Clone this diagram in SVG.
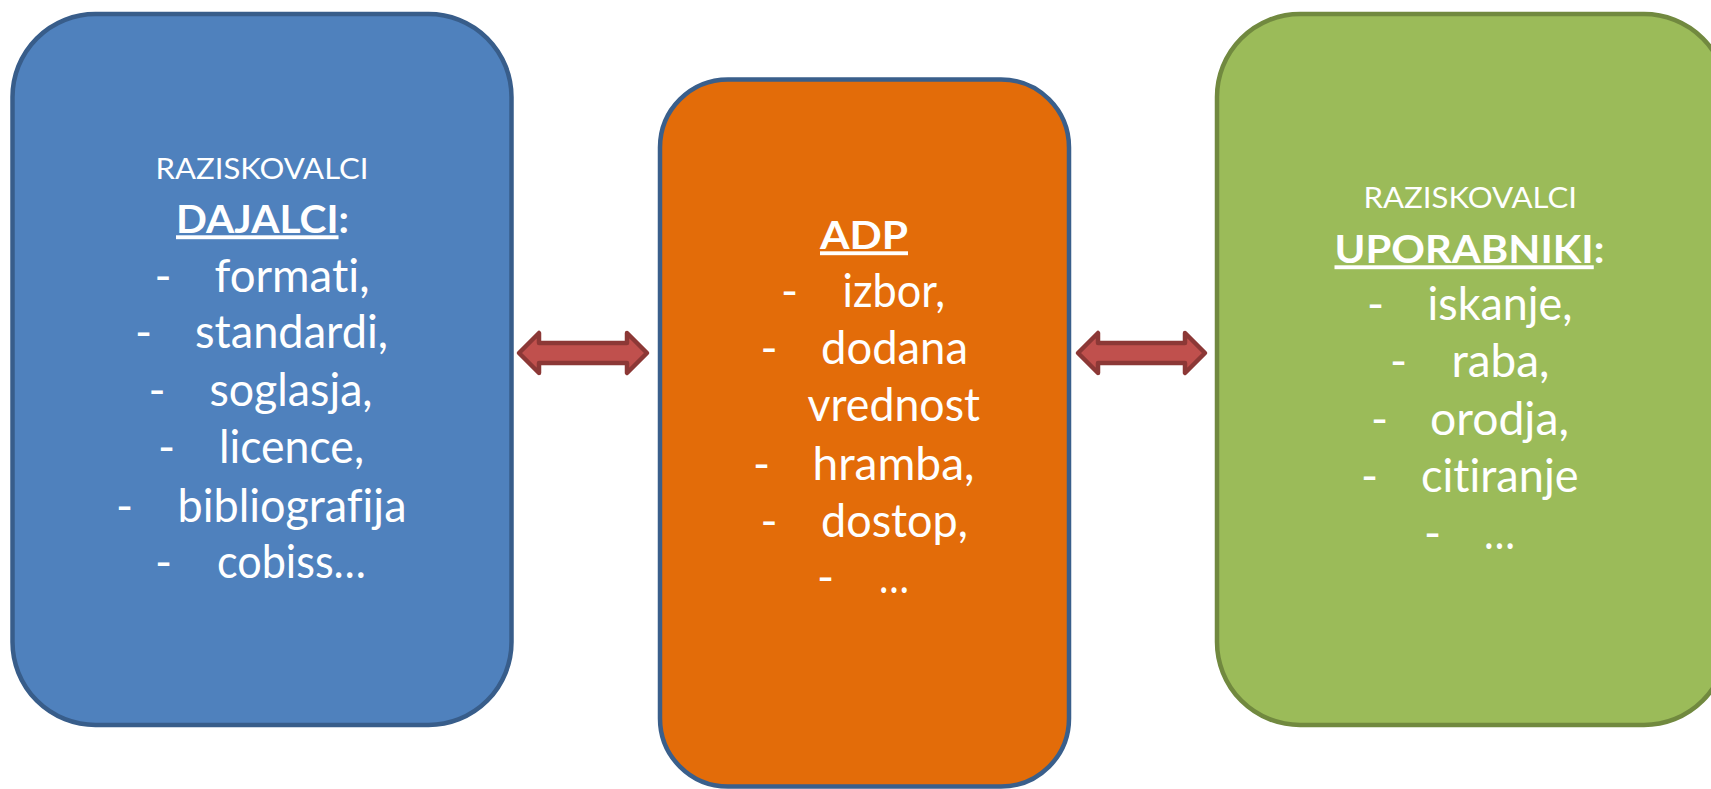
<svg xmlns="http://www.w3.org/2000/svg" width="1711" height="789" viewBox="0 0 1711 789">
<style>
.t{font-family:Lato,"Liberation Sans",sans-serif;fill:#ffffff;font-variant-ligatures:none;font-feature-settings:"liga" 0,"clig" 0}
.h{font-size:28px}
.b{font-size:39px;font-weight:bold}
.l{font-size:46px}
.u{text-decoration:underline}
.arrow{fill:#C0504D;stroke:#8C3836;stroke-width:4.5;stroke-linejoin:round}
</style>
<rect width="1711" height="789" fill="#ffffff"/>
<g id="dajalci">
<rect x="12.5" y="14" width="499" height="711" rx="83" ry="83" fill="#4F81BD" stroke="#385D8A" stroke-width="4.5"/>
<text class="t h" x="155.5" y="179.3" textLength="213" lengthAdjust="spacingAndGlyphs">RAZISKOVALCI</text>
<text class="t b" x="176" y="233.3" textLength="173" lengthAdjust="spacingAndGlyphs"><tspan class="u">DAJALCI</tspan>:</text>
<text class="t l" x="154.5" y="291.7">-</text>
<text class="t l" x="214.5" y="291.7" textLength="155" lengthAdjust="spacingAndGlyphs">formati,</text>
<text class="t l" x="135" y="348.3">-</text>
<text class="t l" x="195" y="348.3" textLength="193" lengthAdjust="spacingAndGlyphs">standardi,</text>
<text class="t l" x="148.5" y="406">-</text>
<text class="t l" x="209.5" y="406" textLength="163" lengthAdjust="spacingAndGlyphs">soglasja,</text>
<text class="t l" x="158" y="463.3">-</text>
<text class="t l" x="219" y="463.3" textLength="145" lengthAdjust="spacingAndGlyphs">licence,</text>
<text class="t l" x="116" y="521.7">-</text>
<text class="t l" x="177.5" y="521.7" textLength="229" lengthAdjust="spacingAndGlyphs">bibliografija</text>
<text class="t l" x="155" y="578.3">-</text>
<text class="t l" x="217" y="578.3" textLength="149" lengthAdjust="spacingAndGlyphs">cobiss…</text>
</g>
<g id="adp">
<rect x="660" y="79.5" width="409" height="707" rx="68" ry="68" fill="#E36C09" stroke="#3A5F8B" stroke-width="4.5"/>
<text class="t b" x="820" y="249.3" textLength="88" lengthAdjust="spacingAndGlyphs"><tspan class="u">ADP</tspan></text>
<text class="t l" x="781" y="307.3">-</text>
<text class="t l" x="842.5" y="307.3" textLength="102.5" lengthAdjust="spacingAndGlyphs">izbor,</text>
<text class="t l" x="760.5" y="364">-</text>
<text class="t l" x="821" y="364" textLength="147" lengthAdjust="spacingAndGlyphs">dodana</text>
<text class="t l" x="807.5" y="421" textLength="172.5" lengthAdjust="spacingAndGlyphs">vrednost</text>
<text class="t l" x="753" y="480">-</text>
<text class="t l" x="812.5" y="480" textLength="162" lengthAdjust="spacingAndGlyphs">hramba,</text>
<text class="t l" x="760.5" y="536.7">-</text>
<text class="t l" x="821" y="536.7" textLength="147" lengthAdjust="spacingAndGlyphs">dostop,</text>
<text class="t l" x="817" y="593.3">-</text>
<text class="t l" x="879" y="593.3" textLength="30" lengthAdjust="spacingAndGlyphs">…</text>
</g>
<g id="uporabniki">
<rect x="1217" y="14" width="510" height="711" rx="83" ry="83" fill="#9BBB59" stroke="#71893F" stroke-width="4.5"/>
<text class="t h" x="1363.5" y="208.3" textLength="213.5" lengthAdjust="spacingAndGlyphs">RAZISKOVALCI</text>
<text class="t b" x="1334.5" y="263.3" textLength="270" lengthAdjust="spacingAndGlyphs"><tspan class="u">UPORABNIKI</tspan>:</text>
<text class="t l" x="1367" y="320">-</text>
<text class="t l" x="1427.5" y="320" textLength="145" lengthAdjust="spacingAndGlyphs">iskanje,</text>
<text class="t l" x="1390" y="377.3">-</text>
<text class="t l" x="1451.5" y="377.3" textLength="98" lengthAdjust="spacingAndGlyphs">raba,</text>
<text class="t l" x="1371" y="435">-</text>
<text class="t l" x="1430" y="435" textLength="139" lengthAdjust="spacingAndGlyphs">orodja,</text>
<text class="t l" x="1361" y="492">-</text>
<text class="t l" x="1421" y="492" textLength="157.5" lengthAdjust="spacingAndGlyphs">citiranje</text>
<text class="t l" x="1424" y="549">-</text>
<text class="t l" x="1484" y="549" textLength="31" lengthAdjust="spacingAndGlyphs">…</text>
</g>
<g id="connectors">
<path class="arrow" d="M519,353 L539,333 L539,343 L627,343 L627,333 L647,353 L627,373 L627,363 L539,363 L539,373 Z"/>
<path class="arrow" d="M1078,353 L1098,333 L1098,343 L1185,343 L1185,333 L1205,353 L1185,373 L1185,363 L1098,363 L1098,373 Z"/>
</g>
</svg>
